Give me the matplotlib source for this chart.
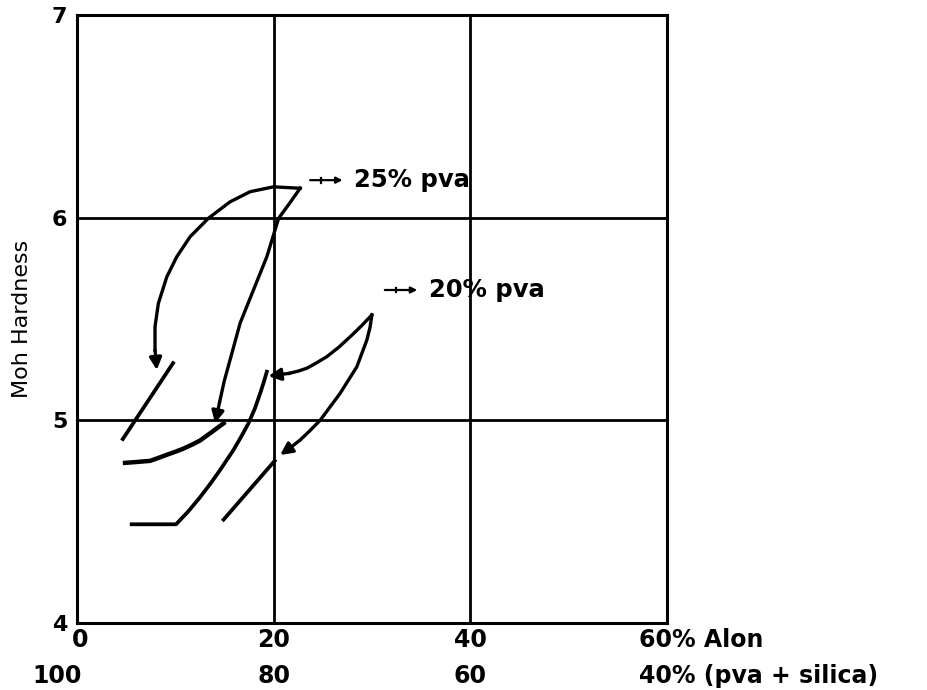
import matplotlib
matplotlib.use("Agg")
import matplotlib.pyplot as plt
from matplotlib.transforms import blended_transform_factory

# --- data (x = % Alon, y = Moh hardness) ---
seg_a_x = [4.55, 9.87]
seg_a_y = [4.90, 5.29]

curve_b_x = [4.88, 6.2, 7.43, 8.3, 9.13, 10.0, 10.8, 11.7, 12.5, 13.5, 14.9]
curve_b_y = [4.79, 4.795, 4.80, 4.815, 4.83, 4.845, 4.86, 4.88, 4.90, 4.935, 4.985]

curve_c_x = [5.56, 10.07, 11.3, 12.5, 13.6, 14.55, 15.9, 16.7, 17.43, 18.1, 18.62, 19.0, 19.3]
curve_c_y = [4.487, 4.487, 4.55, 4.62, 4.69, 4.755, 4.853, 4.92, 4.985, 5.06, 5.133, 5.19, 5.24]

seg_d_x = [14.9, 20.1]
seg_d_y = [4.51, 4.80]

# 25% pva arrows (start at the label point)
pva25_arc_x = [22.69, 19.97, 17.6, 15.56, 13.36, 11.5, 10.14, 9.13, 8.27, 7.93, 7.93, 8.11]
pva25_arc_y = [6.145, 6.152, 6.128, 6.078, 5.997, 5.906, 5.807, 5.708, 5.577, 5.462, 5.347, 5.248]
pva25_line_x = [22.69, 21.6, 20.5, 19.3, 17.94, 16.58, 15.65, 14.95, 14.5, 14.04]
pva25_line_y = [6.145, 6.07, 5.997, 5.807, 5.643, 5.479, 5.314, 5.19, 5.09, 4.985]

# 20% pva arrows
pva20_up_x = [29.98, 28.9, 27.77, 26.6, 25.4, 24.3, 23.37, 22.5, 21.6, 19.46]
pva20_up_y = [5.52, 5.465, 5.412, 5.36, 5.314, 5.282, 5.257, 5.243, 5.232, 5.218]
pva20_low_x = [29.98, 29.8, 29.47, 28.45, 26.75, 24.72, 23.6, 22.69, 21.7, 20.65]
pva20_low_y = [5.52, 5.46, 5.396, 5.264, 5.133, 5.0, 4.945, 4.903, 4.865, 4.829]

x_ticks = [0, 20, 40]
x_labels_alon = ["0", "20", "40"]
x_labels_rest = ["100", "80", "60"]
y_ticks = [4, 5, 6, 7]

LW = 2.4
FONT = "DejaVu Sans"
FW = "bold"

fig = plt.figure(figsize=(9.27, 6.90), dpi=100)
ax = fig.add_axes([0.0831, 0.0971, 0.6365, 0.8812])
ax.set_xlim(0, 60)
ax.set_ylim(4, 7)

for s in ax.spines.values():
    s.set_linewidth(2.2)
for gx in [20, 40]:
    ax.axvline(gx, color="black", lw=2.0)
for gy in [5, 6]:
    ax.axhline(gy, color="black", lw=2.0)

ax.set_xticks([])
ax.set_yticks(y_ticks)
ax.set_yticklabels([str(v) for v in y_ticks], fontsize=16, family=FONT, weight=FW)
ax.tick_params(axis="y", length=0, pad=7)
ax.set_ylabel("Moh Hardness", fontsize=16, family=FONT, labelpad=14)

# plain curves
ax.plot(seg_a_x, seg_a_y, color="black", lw=LW + 0.3, solid_capstyle="butt")
ax.plot(curve_b_x, curve_b_y, color="black", lw=LW + 0.8, solid_joinstyle="round")
ax.plot(curve_c_x, curve_c_y, color="black", lw=LW + 0.3, solid_joinstyle="round")
ax.plot(seg_d_x, seg_d_y, color="black", lw=LW + 0.3)


def arrow_curve(xs, ys):
    ax.plot(xs[:-1], ys[:-1], color="black", lw=LW, solid_joinstyle="round")
    ax.annotate("", xy=(xs[-1], ys[-1]), xytext=(xs[-2], ys[-2]),
                arrowprops=dict(arrowstyle="-|>", color="black", lw=LW,
                                mutation_scale=18, shrinkA=0, shrinkB=0))


arrow_curve(pva25_arc_x, pva25_arc_y)
arrow_curve(pva25_line_x, pva25_line_y)
arrow_curve(pva20_up_x, pva20_up_y)
arrow_curve(pva20_low_x, pva20_low_y)

# labels with small arrows
for x0, y0, txt in [(23.7, 6.185, "25% pva"), (31.3, 5.643, "20% pva")]:
    ax.annotate("", xy=(x0 + 3.3, y0), xytext=(x0, y0),
                arrowprops=dict(arrowstyle="-|>", color="black", lw=1.6,
                                mutation_scale=9, shrinkA=0, shrinkB=0))
    ax.plot([x0 + 1.1, x0 + 1.1], [y0 - 0.012, y0 + 0.012], color="black", lw=1.6)
    ax.text(x0 + 4.5, y0, txt, fontsize=17.5, family=FONT, weight=FW,
            va="center", ha="left")

# x labels, two rows below the axis
tr = blended_transform_factory(ax.transData, ax.transAxes)
for xv, lab in zip(x_ticks, x_labels_alon):
    ax.text(xv + (0.3 if xv == 0 else 0), -0.028, lab, transform=tr,
            fontsize=17, family=FONT, weight=FW, ha="center", va="center")
ax.text(57.1, -0.028, "60% Alon", transform=tr, fontsize=17, family=FONT,
        weight=FW, ha="left", va="center")
for xv, lab in zip(x_ticks, x_labels_rest):
    ax.text(xv - (2.0 if xv == 0 else 0), -0.087, lab, transform=tr,
            fontsize=17, family=FONT, weight=FW, ha="center", va="center")
ax.text(57.1, -0.087, "40% (pva + silica)", transform=tr, fontsize=17,
        family=FONT, weight=FW, ha="left", va="center")

fig.savefig("out.png", dpi=100)
